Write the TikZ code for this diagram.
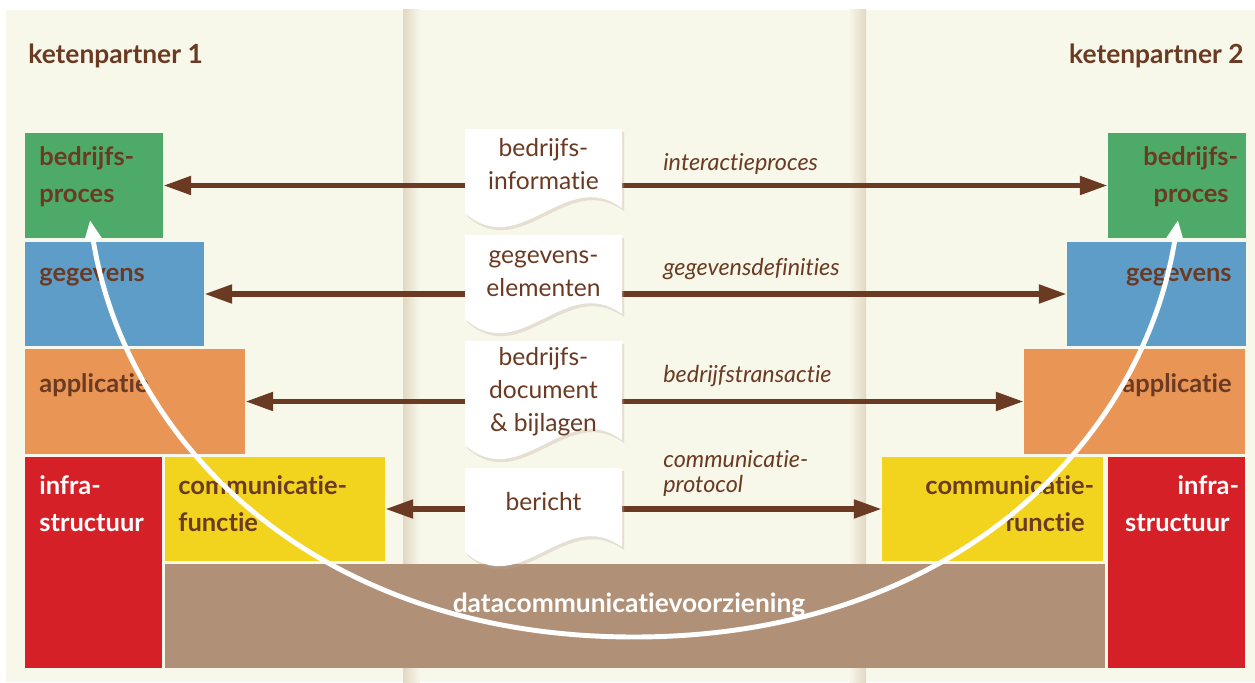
\documentclass[tikz,border=0pt]{standalone}
\usepackage{fontspec}
\setmainfont{Lato}[Ligatures=NoCommon]
\usetikzlibrary{arrows.meta,positioning,shadows}
\definecolor{ink}{HTML}{6B3A22}
\definecolor{cream}{HTML}{F7F7EA}
\definecolor{edgeshade}{HTML}{E2D8C3}
\definecolor{procgreen}{HTML}{4EAA69}
\definecolor{datablue}{HTML}{5F9DC9}
\definecolor{apporange}{HTML}{E99556}
\definecolor{infrared}{HTML}{D52027}
\definecolor{comyellow}{HTML}{F2D41F}
\definecolor{nettan}{HTML}{B09178}
\begin{document}
\begin{tikzpicture}[>={Triangle[length=16pt,width=10pt]},
  blk/.style={anchor=south west,inner sep=0pt,outer sep=0pt,minimum width=#1},
  lbl/.style={font=\fontsize{14.5}{21}\selectfont\bfseries,text=ink,inner sep=0pt,align=left},
  ttl/.style={font=\fontsize{15}{18}\selectfont\bfseries,text=ink,inner sep=0pt},
  doc/.style={font=\fontsize{14}{18.7}\selectfont,text=ink,inner sep=0pt,align=center},
  via/.style={font=\fontsize{13.3}{14.2}\selectfont\itshape,text=ink,inner sep=0pt,align=left},
  flow/.style={draw=ink,line width=3.4pt,<->},
  stackarc/.style={draw=white,line width=2.8pt,{Triangle[length=11pt,width=9pt]}-{Triangle[length=11pt,width=9pt]}},
  pics/sheet/.style={code={\fill[white,drop shadow={shadow xshift=.04cm,shadow yshift=-.06cm,opacity=.3,fill=ink!45}]
    (0,0) -- (3.14,0) -- (3.14,-1.58-#1) .. controls (2.0,-0.75-#1) and (1.1,-2.65-#1) .. (0,-1.68-#1) -- cycle;}},
  pics/sheet/.default=0]
\useasboundingbox (0,0) rectangle (25.1,13.64);
\fill[white] (0,0) rectangle (25.1,13.64);
\fill[cream] (0.12,0) rectangle (25.1,13.44);
\shade[left color=edgeshade,right color=cream] (8.06,0) rectangle (8.4,13.44);
\shade[left color=cream,right color=edgeshade] (16.98,0) rectangle (17.32,13.44);

% ketenpartner 1
\node[ttl,anchor=west] (kp1) at (0.56,12.52) {ketenpartner 1};
\node[blk=2.76cm,minimum height=2.1cm,fill=procgreen] (gL) at (0.5,8.88) {};
\node[blk=3.58cm,minimum height=2.08cm,fill=datablue] (bL) at (0.5,6.72) {};
\node[blk=4.4cm,minimum height=2.1cm,fill=apporange] (aL) at (0.5,4.56) {};
\node[blk=2.74cm,minimum height=4.22cm,fill=infrared] (iL) at (0.5,0.28) {};
\node[blk=4.4cm,minimum height=2.08cm,fill=comyellow] (cL) at (3.3,2.42) {};
\node[blk=18.8cm,minimum height=2.08cm,fill=nettan] (dc) at (3.3,0.28) {};
\node[lbl,anchor=west] (gLt) at (0.78,10.11) {bedrijfs-\\proces};
\node[lbl,anchor=west] (bLt) at (0.78,8.10) {gegevens};
\node[lbl,anchor=west] (aLt) at (0.78,5.94) {applicatie};
\node[lbl,anchor=west,text=white] (iLt) at (0.78,3.57) {infra-\\structuur};
\node[lbl,anchor=west] (cLt) at (3.56,3.57) {communicatie-\\functie};
\node[lbl,text=white,font=\fontsize{15}{21}\selectfont\bfseries] (dct) at (12.58,1.54) {datacommunicatievoorziening};

% ketenpartner 2
\node[ttl,anchor=east] (kp2) at (24.88,12.52) {ketenpartner 2};
\node[blk=2.76cm,minimum height=2.1cm,fill=procgreen] (gR) at (22.16,8.88) {};
\node[blk=3.58cm,minimum height=2.08cm,fill=datablue] (bR) at (21.34,6.72) {};
\node[blk=4.42cm,minimum height=2.1cm,fill=apporange] (aR) at (20.48,4.56) {};
\node[blk=4.42cm,minimum height=2.08cm,fill=comyellow] (cR) at (17.64,2.42) {};
\node[blk=2.74cm,minimum height=4.22cm,fill=infrared] (iR) at (22.16,0.28) {};
\node[lbl,anchor=east,align=right] (gRt) at (24.58,10.11) {bedrijfs\rlap{-}\\proces};
\node[lbl,anchor=east,align=right] (bRt) at (24.64,8.10) {gegevens};
\node[lbl,anchor=east,align=right] (aRt) at (24.64,5.94) {applicatie};
\node[lbl,anchor=east,align=right] (cRt) at (21.7,3.57) {communicatie\rlap{-}\\functie};
\node[lbl,anchor=east,align=right,text=white] (iRt) at (24.6,3.57) {infra\rlap{-}\\structuur};

\draw[flow] (gL) -- (gR);
\draw[flow] (bL) -- (bR);
\draw[flow] (aL) -- (aR);
\draw[flow] (cL) -- (cR);

% documents in the middle
\pic at (9.3,11.06) {sheet};
\pic at (9.3,8.94) {sheet};
\pic at (9.3,6.82) {sheet=0.4};
\pic at (9.3,4.28) {sheet};
\node[doc] (d1) at (10.87,10.36) {bedrijfs-\\informatie};
\node[doc] (d2) at (10.87,8.17) {gegevens-\\elementen};
\node[doc] (d3) at (10.87,5.81) {bedrijfs-\\document\\\& bijlagen};
\node[doc] (d4) at (10.87,3.6) {bericht};
\node[via,anchor=base west] (v1) at (13.26,10.24) {interactieproces};
\node[via,anchor=base west] (v2) at (13.26,8.14) {gegevensdefinities};
\node[via,anchor=base west] (v3) at (13.26,6.0) {bedrijfstransactie};
\node[via,anchor=west] (v4) at (13.26,4.17) {communicatie-\\protocol};

\coordinate (wL) at (1.8,9.24);
\coordinate (wB) at (12.68,0.9);
\coordinate (wR) at (23.56,9.24);
\draw[stackarc] (wL) .. controls (2.5,4.8) and (6.3,0.9) .. (wB) .. controls (19.06,0.9) and (22.86,4.8) .. (wR);
\end{tikzpicture}
\end{document}
